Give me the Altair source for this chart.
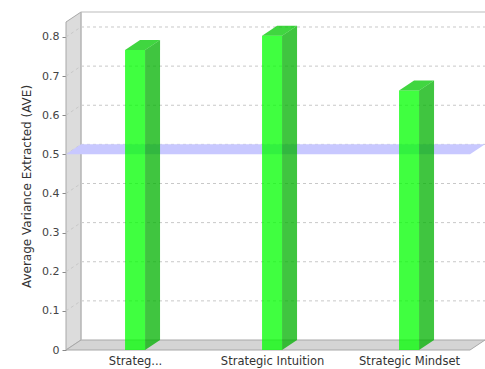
import json
import altair as alt
import pandas as pd

# ---- data ---------------------------------------------------------------
categories = ["Strateg...", "Strategic Intuition", "Strategic Mindset"]
ave = [0.767, 0.803, 0.663]
threshold = 0.5
y_ticks = [0, 0.1, 0.2, 0.3, 0.4, 0.5, 0.6, 0.7, 0.8]

# ---- plot geometry (front plane) ---------------------------------------
W, H = 404, 328
X_DOMAIN = [-0.504, 2.445]          # category index axis
Y_DOMAIN = [0, 0.8383]
PX_X = W / (X_DOMAIN[1] - X_DOMAIN[0])
PX_Y = H / (Y_DOMAIN[1] - Y_DOMAIN[0])
DX = 15 / PX_X                       # 3D depth, horizontal
DY = 10 / PX_Y                       # 3D depth, vertical
HALF = 10 / PX_X                     # half bar width
x0, x1 = X_DOMAIN
ytop = Y_DOMAIN[1]

xs = alt.Scale(domain=X_DOMAIN, nice=False, zero=False)
ys = alt.Scale(domain=Y_DOMAIN, nice=False, zero=False)

label_expr = json.dumps(categories) + "[datum.value]"
X = alt.X(
    "x:Q", scale=xs,
    axis=alt.Axis(values=[0, 1, 2], labelExpr=label_expr, ticks=False, domain=False,
                  grid=False, title=None, labelFontSize=11.5, labelColor="#333333",
                  labelPadding=5, labelFont="DejaVu Sans"),
)
Y = alt.Y(
    "y:Q", scale=ys,
    axis=alt.Axis(values=y_ticks, format="~g", domain=False, grid=False,
                  tickSize=4, tickColor="#888888", labelPadding=3, labelFontSize=11,
                  labelColor="#444444", labelFont="DejaVu Sans",
                  title="Average Variance Extracted (AVE)", titleFontSize=12,
                  titleFontWeight="normal", titleColor="#333333", titleFont="DejaVu Sans",
                  titlePadding=8),
)


def polygon(rows, fill, stroke=None, opacity=1.0):
    """Filled shape between an upper (y) and lower (y2) edge, sorted along x."""
    df = pd.DataFrame([dict(x=a, y=b, y2=c) for a, b, c in rows]).sort_values("x")
    kw = dict(fill=fill, opacity=opacity, interpolate="linear", orient="vertical")
    if stroke:
        kw.update(stroke=stroke, strokeWidth=1)
    return alt.Chart(df).mark_area(**kw).encode(x=X, y=Y, y2="y2")


def slab(level):
    """Horizontal parallelogram lying at a given value, spanning the plot depth."""
    return [(x0, level, level), (x0 + DX, level + DY, level),
            (x1, level + DY, level), (x1 + DX, level + DY, level + DY)]


# walls
side_wall = polygon([(x0, ytop, 0), (x0 + DX, ytop + DY, DY)], "#DCDCDC", "#A8A8A8")
floor = polygon(slab(0), "#D4D4D4", "#A8A8A8")

back_edges = pd.DataFrame([
    dict(x=x0 + DX, x2=x1 + DX, y=ytop + DY, y2=ytop + DY),
    dict(x=x0 + DX, x2=x0 + DX, y=DY, y2=ytop + DY),
])
back_wall = alt.Chart(back_edges).mark_rule(color="#BBBBBB", strokeWidth=1).encode(
    x=X, x2="x2", y=Y, y2="y2")

# dashed grid: back wall lines plus diagonals across the side wall
grid_rows = []
for v in y_ticks[1:]:
    grid_rows.append(dict(x=x0 + DX, x2=x1 + DX, y=v + DY, y2=v + DY))
    grid_rows.append(dict(x=x0, x2=x0 + DX, y=v, y2=v + DY))
grid = alt.Chart(pd.DataFrame(grid_rows)).mark_rule(
    color="#C8C8C8", strokeWidth=1, strokeDash=[3, 3]).encode(
    x=X, x2="x2", y=Y, y2="y2")

# threshold band at AVE = 0.5
band = polygon(slab(threshold), "#C8C8FF")

# bars: front faces, side faces, top faces
front_rows = [dict(x=i - HALF, x2=i + HALF, y=v, y2=0) for i, v in enumerate(ave)]
fronts = alt.Chart(pd.DataFrame(front_rows)).mark_rect(
    color="#00FF00", opacity=0.75).encode(x=X, x2="x2", y=Y, y2="y2")

bar_faces = []
for i, v in enumerate(ave):
    bar_faces.append(polygon([(i + HALF, v, 0), (i + HALF + DX, v + DY, DY)],
                             "#00B200", opacity=0.75))
    bar_faces.append(polygon([(i - HALF, v, v), (i - HALF + DX, v + DY, v),
                              (i + HALF, v + DY, v), (i + HALF + DX, v + DY, v + DY)],
                             "#00C800", opacity=0.75))

chart = alt.layer(
    side_wall, floor, back_wall, grid, band, fronts, *bar_faces
).properties(
    width=W, height=H,
    autosize=alt.AutoSizeParams(type="none"),
    padding={"left": 66, "top": 22, "right": 15, "bottom": 19},
    background="white",
).configure_view(stroke=None)

chart.save("out.html", embed_options={"renderer": "svg", "actions": False})
